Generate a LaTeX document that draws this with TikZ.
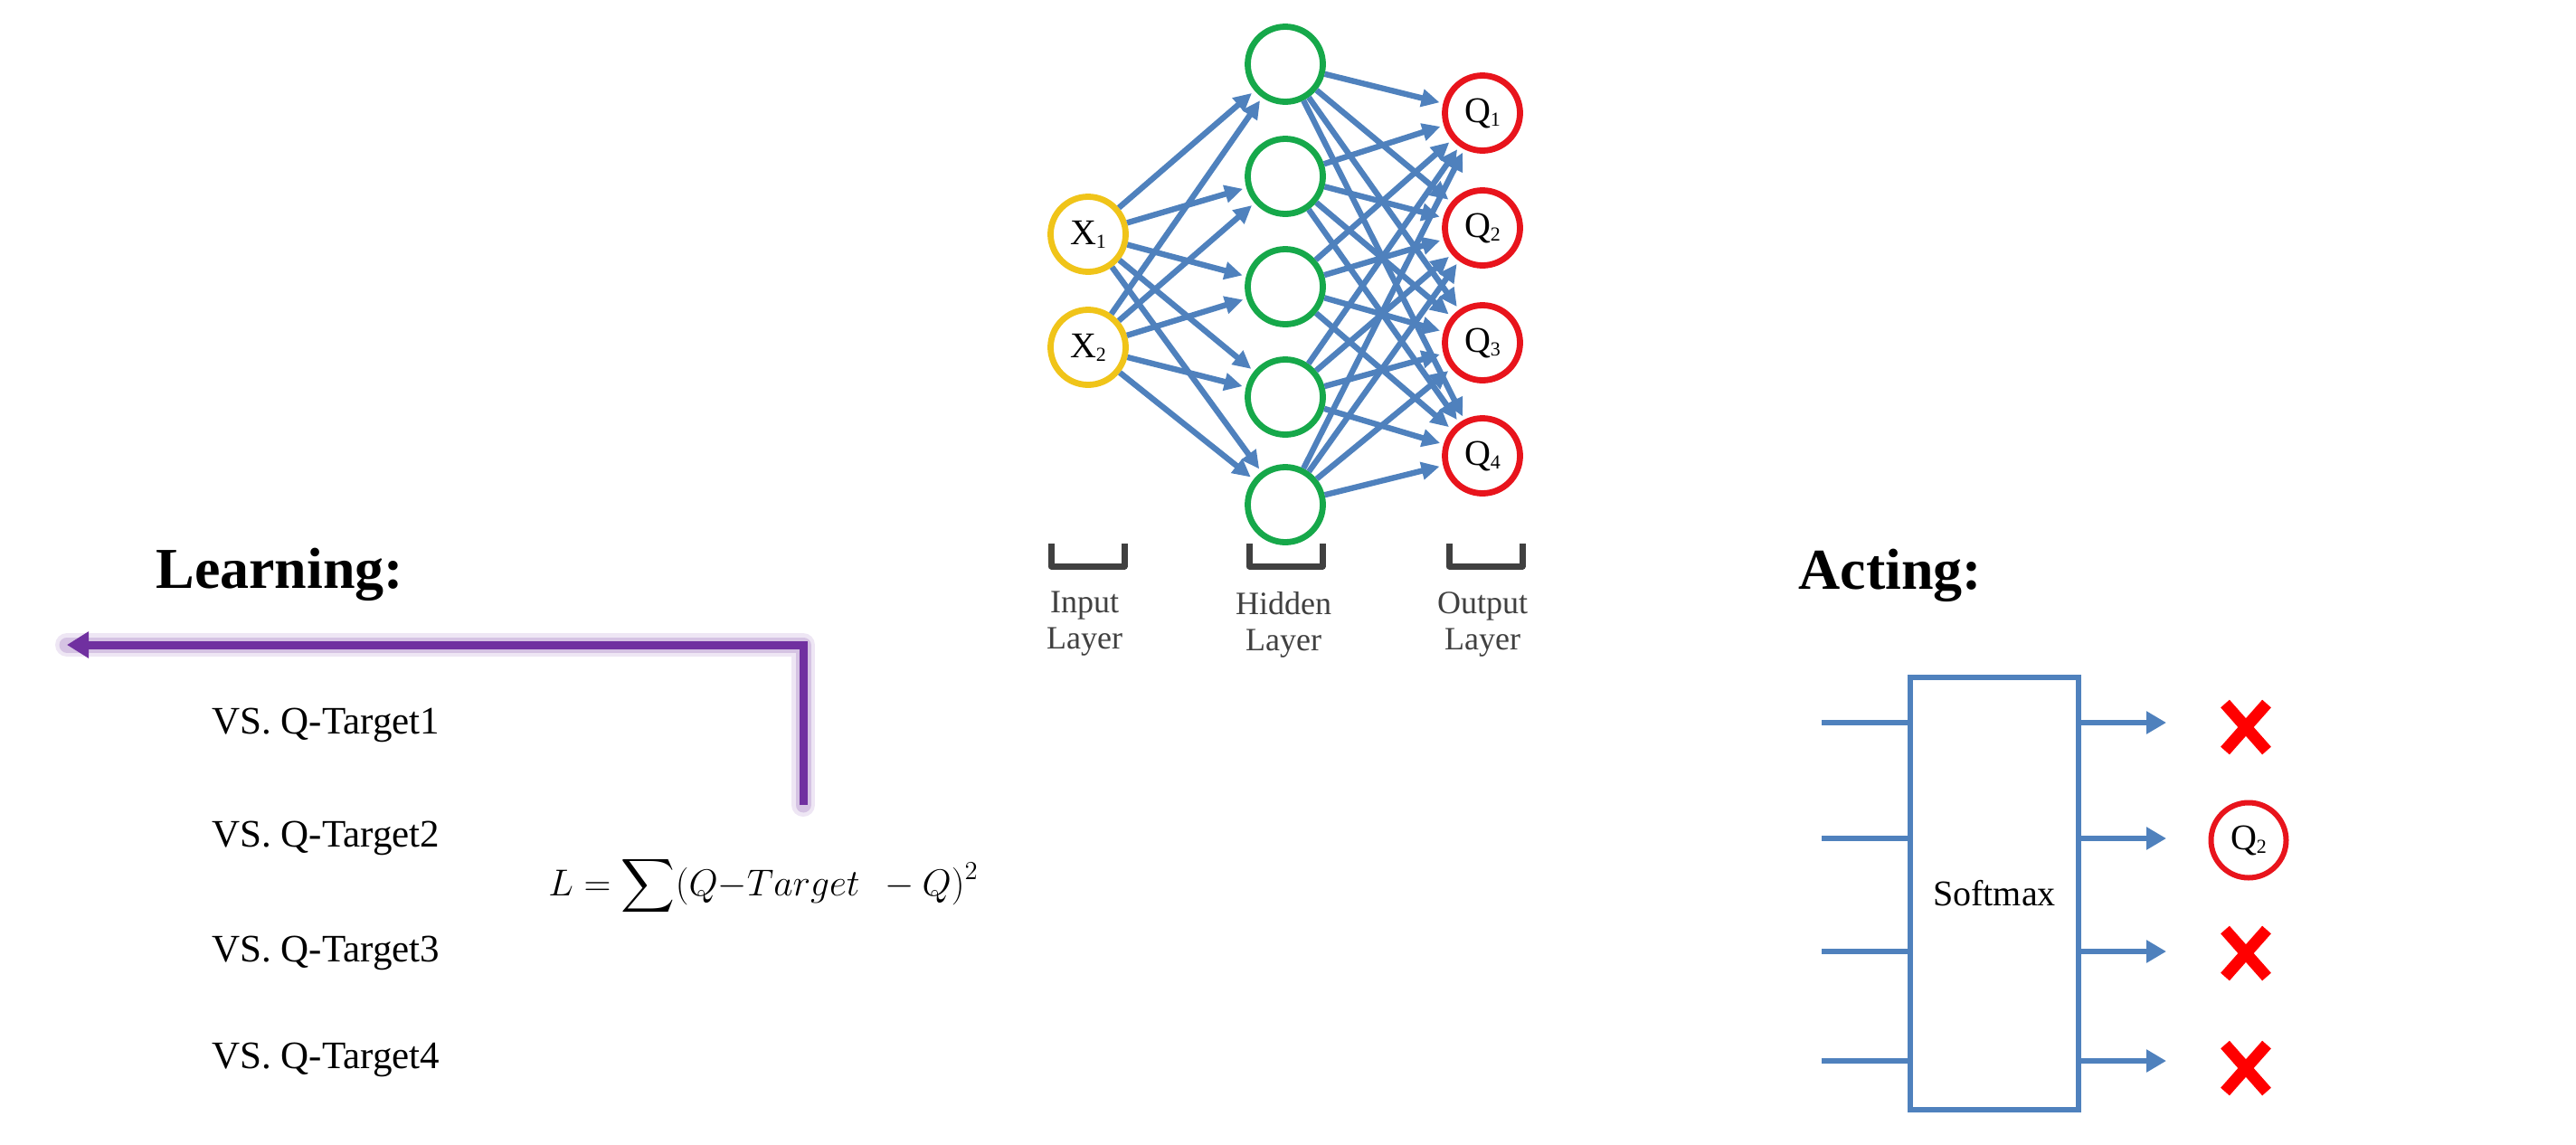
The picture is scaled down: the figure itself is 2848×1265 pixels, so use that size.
\documentclass[tikz,border=0pt]{standalone}
\usepackage{amsmath}
\usepackage{fontspec}
\setmainfont{Liberation Serif}
\usetikzlibrary{arrows.meta}
\definecolor{edgeblue}{HTML}{4F81BD}
\definecolor{nodeyellow}{HTML}{F0C419}
\definecolor{nodegreen}{HTML}{16A84A}
\definecolor{nodered}{HTML}{E8141C}
\definecolor{lossviolet}{HTML}{7030A0}
\definecolor{bracketgray}{HTML}{404040}
\newcommand{\nsub}[1]{\raisebox{-0.1em}{\fontsize{11pt}{11pt}\selectfont #1}}
\tikzset{
  neuron/.style={circle, draw, line width=3.4pt, fill=white, minimum size=41.5pt, inner sep=0pt, font=\fontsize{20pt}{20pt}\selectfont},
  innode/.style={neuron, draw=nodeyellow},
  hidnode/.style={neuron, draw=nodegreen},
  outnode/.style={neuron, draw=nodered},
  link/.style={draw=edgeblue, line width=3.2pt, shorten >=2pt, -{Triangle[length=10pt,width=9.5pt]}},
  layerbracket/.style={draw=bracketgray, line width=3.5pt, line join=round},
  layerlabel/.style={text=bracketgray, font=\fontsize{18pt}{20pt}\selectfont, align=center, inner sep=0pt, anchor=north},
  heading/.style={font=\fontsize{32pt}{32pt}\selectfont\bfseries, anchor=base west, inner sep=0pt},
  vstext/.style={font=\fontsize{21.5pt}{24pt}\selectfont, anchor=base west, inner sep=0pt},
  flowline/.style={draw=edgeblue, line width=3pt},
  flowarrow/.style={flowline, -{Triangle[length=11pt,width=12pt]}},
  crossmark/.style={draw=red, line width=6.5pt},
  softbox/.style={draw=edgeblue, line width=3pt, fill=white, minimum width=93pt, minimum height=239pt, inner sep=0pt, font=\fontsize{20pt}{20pt}\selectfont},
}
\begin{document}
\begin{tikzpicture}[x=0.5pt,y=-0.5pt]
\useasboundingbox (0,0) rectangle (2848,1265);

% ---------- network ----------
\node[innode] (x1) at (1203,259) {X\nsub{1}};
\node[innode] (x2) at (1203,384) {X\nsub{2}};
\node[hidnode] (h1) at (1421,71) {};
\node[hidnode] (h2) at (1421,195) {};
\node[hidnode] (h3) at (1421,317) {};
\node[hidnode] (h4) at (1421,439) {};
\node[hidnode] (h5) at (1421,558) {};
\node[outnode] (q1) at (1639,125) {Q\nsub{1}};
\node[outnode] (q2) at (1639,252) {Q\nsub{2}};
\node[outnode] (q3) at (1639,379) {Q\nsub{3}};
\node[outnode] (q4) at (1639,504) {Q\nsub{4}};

\foreach \i in {x1,x2}
  \foreach \j in {h1,h2,h3,h4,h5}
    \draw[link] (\i) -- (\j);
\foreach \i in {h1,h2,h3,h4,h5}
  \foreach \j in {q1,q2,q3,q4}
    \draw[link] (\i) -- (\j);

% layer brackets
\draw[layerbracket] (1162,601) -- (1162,626) -- (1243,626) -- (1243,601);
\draw[layerbracket] (1381,601) -- (1381,626) -- (1462,626) -- (1462,601);
\draw[layerbracket] (1602,601) -- (1602,626) -- (1683,626) -- (1683,601);
\node[layerlabel] (linput) at (1199,654) {Input\\Layer};
\node[layerlabel] (lhidden) at (1419,654) {Hidden\\Layer};
\node[layerlabel] (loutput) at (1639,654) {Output\\Layer};

% ---------- learning ----------
\node[heading] (learn) at (172,650) {Learning:};
\coordinate (pstart) at (888,890);
\coordinate (pcorner) at (888,713);
\coordinate (ptip) at (74,713);
\draw[lossviolet!20, line width=13pt, opacity=0.6, line cap=round, line join=round] (pstart) -- (pcorner) -- (ptip);
\draw[lossviolet!40, line width=8.5pt, opacity=0.6, line cap=round, line join=round] (pstart) -- (pcorner) -- (ptip);
\draw[lossviolet, line width=4.5pt, line join=miter, -{Triangle[length=12pt,width=14pt]}] (pstart) -- (pcorner) -- (ptip);

\node[vstext] (t1) at (234,811) {VS. Q-Target1};
\node[vstext] (t2) at (234,936) {VS. Q-Target2};
\node[vstext] (t3) at (234,1063) {VS. Q-Target3};
\node[vstext] (t4) at (234,1181) {VS. Q-Target4};
\node[anchor=base west, inner sep=0pt, font=\fontsize{22pt}{22pt}\selectfont] (loss) at (606,990)
  {$L=\displaystyle\sum(Q{-}Target\;\, -Q)^2$};

% ---------- acting ----------
\node[heading] (act) at (1988,651) {Acting:};
\node[softbox] (soft) at (2205,988) {Softmax};
\foreach \k/\yy in {1/799,2/927,3/1052,4/1173}{
  \coordinate (in\k) at (2014,\yy);
  \coordinate (out\k) at (2395,\yy);
  \draw[flowline] (in\k) -- (in\k -| soft.west);
  \draw[flowarrow] (out\k -| soft.east) -- (out\k);
}
\node[outnode, line width=3pt] (pick) at (2486,929) {Q\nsub{2}};
\foreach \yy in {804,1054,1181}{
  \draw[crossmark] (2460,\yy-26) -- (2506,\yy+26);
  \draw[crossmark] (2506,\yy-26) -- (2460,\yy+26);
}
\end{tikzpicture}
\end{document}
